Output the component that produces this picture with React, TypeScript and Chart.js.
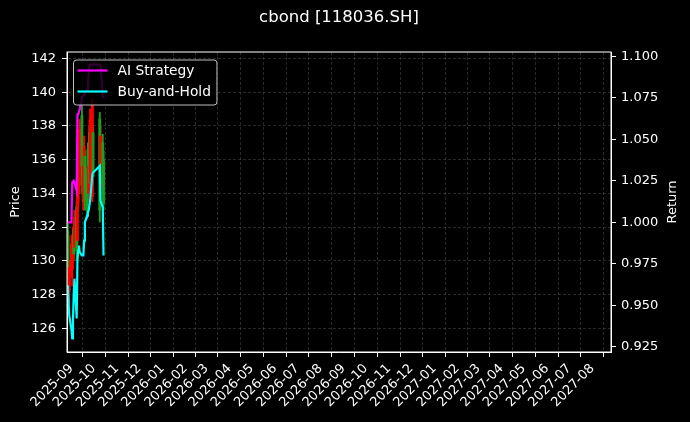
import { useEffect, useRef } from "react";
import { Chart, registerables } from "chart.js";

Chart.register(...registerables);

const chartTitle = "cbond [118036.SH]";

// trading days shown (Chinese holiday gap Oct 1-8)
const tradeDates = [
  "2025-08-27", "2025-08-28", "2025-08-29",
  "2025-09-01", "2025-09-02", "2025-09-03", "2025-09-04", "2025-09-05",
  "2025-09-08", "2025-09-09", "2025-09-10", "2025-09-11", "2025-09-12",
  "2025-09-15", "2025-09-16", "2025-09-17", "2025-09-18", "2025-09-19",
  "2025-09-22", "2025-09-23", "2025-09-24", "2025-09-25", "2025-09-26",
  "2025-09-29", "2025-09-30",
  "2025-10-09", "2025-10-10", "2025-10-13", "2025-10-14",
];

const openPrices = [
  131.8, 129.5, 128.2, 129.4, 130.0, 130.0, 131.8, 130.8,
  133.2, 131.2, 133.4, 137.0, 134.5, 138.6, 136.6, 133.6, 134.6, 136.2,
  135.0, 136.6, 134.0, 137.6, 134.6, 133.8, 137.6, 138.4, 134.4, 137.0, 136.0,
];
const highPrices = [
  132.3, 131.5, 130.0, 131.5, 131.0, 132.0, 132.0, 133.0,
  133.5, 136.0, 137.8, 137.5, 138.4, 139.2, 137.0, 136.0, 137.4, 136.5,
  135.5, 137.0, 136.0, 138.0, 139.0, 139.6, 138.0, 138.8, 138.0, 137.5, 136.5,
];
const lowPrices = [
  128.5, 128.0, 127.5, 129.0, 128.5, 129.5, 130.0, 130.5,
  130.0, 131.0, 133.0, 134.0, 134.0, 135.0, 133.5, 133.0, 134.0, 133.0,
  132.5, 134.0, 133.5, 134.0, 134.0, 133.5, 134.5, 132.3, 134.0, 134.0, 133.0,
];
const closePrices = [
  129.0, 128.6, 129.6, 131.0, 130.6, 131.6, 130.4, 132.6,
  130.6, 135.4, 137.2, 134.6, 137.8, 135.6, 134.0, 135.6, 136.8, 133.6,
  133.0, 134.4, 135.6, 134.6, 138.4, 139.2, 135.0, 133.0, 137.4, 134.6, 133.4,
];

const aiStrategy = [
  1.000, 1.000, 1.000, 1.000, 1.024, 1.024, 1.025, 1.024,
  1.019, 1.065, 1.065, 1.065, 1.068, 1.075, 1.076, 1.076, 1.077, 1.077,
  1.080, 1.083, 1.089, 1.094, 1.095, 1.095, 1.095, 1.095, 1.094, 1.076, 1.075,
];
const buyAndHold = [
  0.962, 0.953, 0.944, 0.935, 0.930, 0.941, 0.956, 0.966,
  0.942, 0.977, 0.983, 0.986, 0.982, 0.980, 0.980, 0.980, 0.989, 1.000,
  1.004, 1.006, 1.007, 1.010, 1.013, 1.029, 1.030, 1.034, 1.013, 1.009, 0.980,
];

const monthTicks = [
  "2025-09", "2025-10", "2025-11", "2025-12",
  "2026-01", "2026-02", "2026-03", "2026-04", "2026-05", "2026-06",
  "2026-07", "2026-08", "2026-09", "2026-10", "2026-11", "2026-12",
  "2027-01", "2027-02", "2027-03", "2027-04", "2027-05", "2027-06",
  "2027-07", "2027-08",
];
const priceTicks = [126, 128, 130, 132, 134, 136, 138, 140, 142];
const returnTicks = [0.925, 0.95, 0.975, 1.0, 1.025, 1.05, 1.075, 1.1];

const xStart = "2025-08-26";
const xEnd = "2027-08-26";

const toDay = (s: string) => {
  const [y, m, d] = s.split("-").map(Number);
  return Date.UTC(y, m - 1, d || 1) / 86400000;
};

const FONT = "DejaVu Sans";
const upColor = "#ff0000";
const downColor = "#1e9e1e";
const gridColor = "rgba(150,150,150,0.45)";

const overlayPlugin = {
  id: "overlay",
  afterDraw(chart: Chart) {
    const { ctx, chartArea } = chart;
    const { left, right, top, bottom } = chartArea;
    ctx.save();

    // frame
    ctx.strokeStyle = "#ffffff";
    ctx.lineWidth = 1;
    ctx.strokeRect(left, top, right - left, bottom - top);

    // title
    ctx.fillStyle = "#ffffff";
    ctx.font = `16.5px "${FONT}"`;
    ctx.textAlign = "center";
    ctx.textBaseline = "middle";
    ctx.fillText(chartTitle, (left + right) / 2, 18);

    // right axis title
    ctx.font = `13px "${FONT}"`;
    ctx.translate(673, (top + bottom) / 2);
    ctx.rotate(-Math.PI / 2);
    ctx.fillText("Return", 0, 0);
    ctx.setTransform(1, 0, 0, 1, 0, 0);
    ctx.restore();

    // legend
    ctx.save();
    const items = chart.data.datasets.filter((d: any) => d.type === "line").reverse();
    ctx.font = `13.8px "${FONT}"`;
    const textW = Math.max(...items.map((d: any) => ctx.measureText(d.label).width));
    const bx = left + 6.5;
    const by = top + 8;
    const bw = 44 + textW + 6;
    const bh = 45;
    ctx.beginPath();
    ctx.roundRect(bx, by, bw, bh, 3);
    ctx.fillStyle = "rgba(0,0,0,0.8)";
    ctx.fill();
    ctx.strokeStyle = "rgba(210,210,210,0.9)";
    ctx.lineWidth = 1;
    ctx.stroke();
    items.forEach((d: any, i: number) => {
      const y = by + 10.5 + i * 21;
      ctx.strokeStyle = d.borderColor;
      ctx.lineWidth = 2.2;
      ctx.beginPath();
      ctx.moveTo(bx + 4, y);
      ctx.lineTo(bx + 34, y);
      ctx.stroke();
      ctx.fillStyle = "#ffffff";
      ctx.textAlign = "left";
      ctx.textBaseline = "middle";
      ctx.fillText(d.label, bx + 44, y + 0.5);
    });
    ctx.restore();
  },
};

export default function App() {
  const chartRef = useRef<HTMLCanvasElement>(null);
  const chartInstance = useRef<Chart | null>(null);

  useEffect(() => {
    if (!chartRef.current) return;
    document.body.style.margin = "0";
    document.body.style.background = "#000";

    if (chartInstance.current) {
      chartInstance.current.destroy();
    }

    const days = tradeDates.map(toDay);
    const candleColors = closePrices.map((c, i) => (c >= openPrices[i] ? upColor : downColor));
    const tickFont = { family: FONT, size: 13 };

    chartInstance.current = new Chart(chartRef.current, {
      type: "bar",
      data: {
        datasets: [
          {
            type: "line",
            label: "Buy-and-Hold",
            data: days.map((x, i) => ({ x, y: buyAndHold[i] })),
            yAxisID: "yReturn",
            borderColor: "#00ffff",
            borderWidth: 2.2,
            pointRadius: 0,
            tension: 0,
            order: 0,
          },
          {
            type: "line",
            label: "AI Strategy",
            data: days.map((x, i) => ({ x, y: aiStrategy[i] })),
            yAxisID: "yReturn",
            borderColor: "#ff00ff",
            borderWidth: 2.2,
            pointRadius: 0,
            tension: 0,
            order: 1,
          },
          {
            type: "bar",
            label: "body",
            data: days.map((x, i) => ({ x, y: [openPrices[i], closePrices[i]] })),
            yAxisID: "yPrice",
            backgroundColor: candleColors,
            barThickness: 2.2,
            grouped: false,
            order: 2,
          },
          {
            type: "bar",
            label: "wick",
            data: days.map((x, i) => ({ x, y: [lowPrices[i], highPrices[i]] })),
            yAxisID: "yPrice",
            backgroundColor: candleColors,
            barThickness: 1.2,
            grouped: false,
            order: 3,
          },
        ] as any,
      },
      options: {
        responsive: false,
        animation: false,
        devicePixelRatio: 1,
        layout: { padding: { top: 52, left: 0, right: 0, bottom: 0 } },
        plugins: {
          legend: { display: false },
          tooltip: { enabled: false },
          title: { display: false },
        },
        scales: {
          x: {
            type: "linear",
            min: toDay(xStart),
            max: toDay(xEnd),
            offset: false,
            afterBuildTicks: (scale: any) => {
              scale.ticks = monthTicks.map((m) => ({ value: toDay(m) }));
            },
            afterFit: (scale: any) => {
              scale.height = 70;
            },
            ticks: {
              autoSkip: false,
              minRotation: 45,
              maxRotation: 45,
              color: "#ffffff",
              font: tickFont,
              padding: 4,
              callback: (_v: any, i: number) => monthTicks[i],
            },
            grid: {
              color: gridColor,
              lineWidth: 0.6,
              tickColor: "#ffffff",
              tickLength: 5,
              tickWidth: 1,
            },
            border: { display: true, color: "#ffffff", width: 1, dash: [3, 2] },
          },
          yPrice: {
            type: "linear",
            position: "left",
            min: 124.59,
            max: 142.38,
            afterBuildTicks: (scale: any) => {
              scale.ticks = priceTicks.map((v) => ({ value: v }));
            },
            afterFit: (scale: any) => {
              scale.width = 67;
            },
            ticks: {
              color: "#ffffff",
              font: tickFont,
              padding: 6,
              callback: (v: any) => String(v),
            },
            grid: {
              color: gridColor,
              lineWidth: 0.6,
              tickColor: "#ffffff",
              tickLength: 5,
              tickWidth: 1,
            },
            border: { display: true, color: "#ffffff", width: 1, dash: [3, 2] },
            title: {
              display: true,
              text: "Price",
              color: "#ffffff",
              font: tickFont,
              padding: { top: 8, bottom: 0 },
            },
          },
          yReturn: {
            type: "linear",
            position: "right",
            min: 0.9218,
            max: 1.10266,
            afterBuildTicks: (scale: any) => {
              scale.ticks = returnTicks.map((v) => ({ value: v }));
            },
            afterFit: (scale: any) => {
              scale.width = 79;
            },
            ticks: {
              color: "#ffffff",
              font: tickFont,
              padding: 5,
              callback: (v: any) => Number(v).toFixed(3),
            },
            grid: {
              drawOnChartArea: false,
              tickColor: "#ffffff",
              tickLength: 5,
              tickWidth: 1,
            },
            border: { display: true, color: "#ffffff", width: 1 },
          },
        },
      } as any,
      plugins: [overlayPlugin],
    });

    return () => {
      if (chartInstance.current) {
        chartInstance.current.destroy();
        chartInstance.current = null;
      }
    };
  }, []);

  return (
    <div style={{ position: "fixed", left: 0, top: 0, width: 690, height: 422, background: "#000" }}>
      <canvas ref={chartRef} width={690} height={422}></canvas>
    </div>
  );
}
